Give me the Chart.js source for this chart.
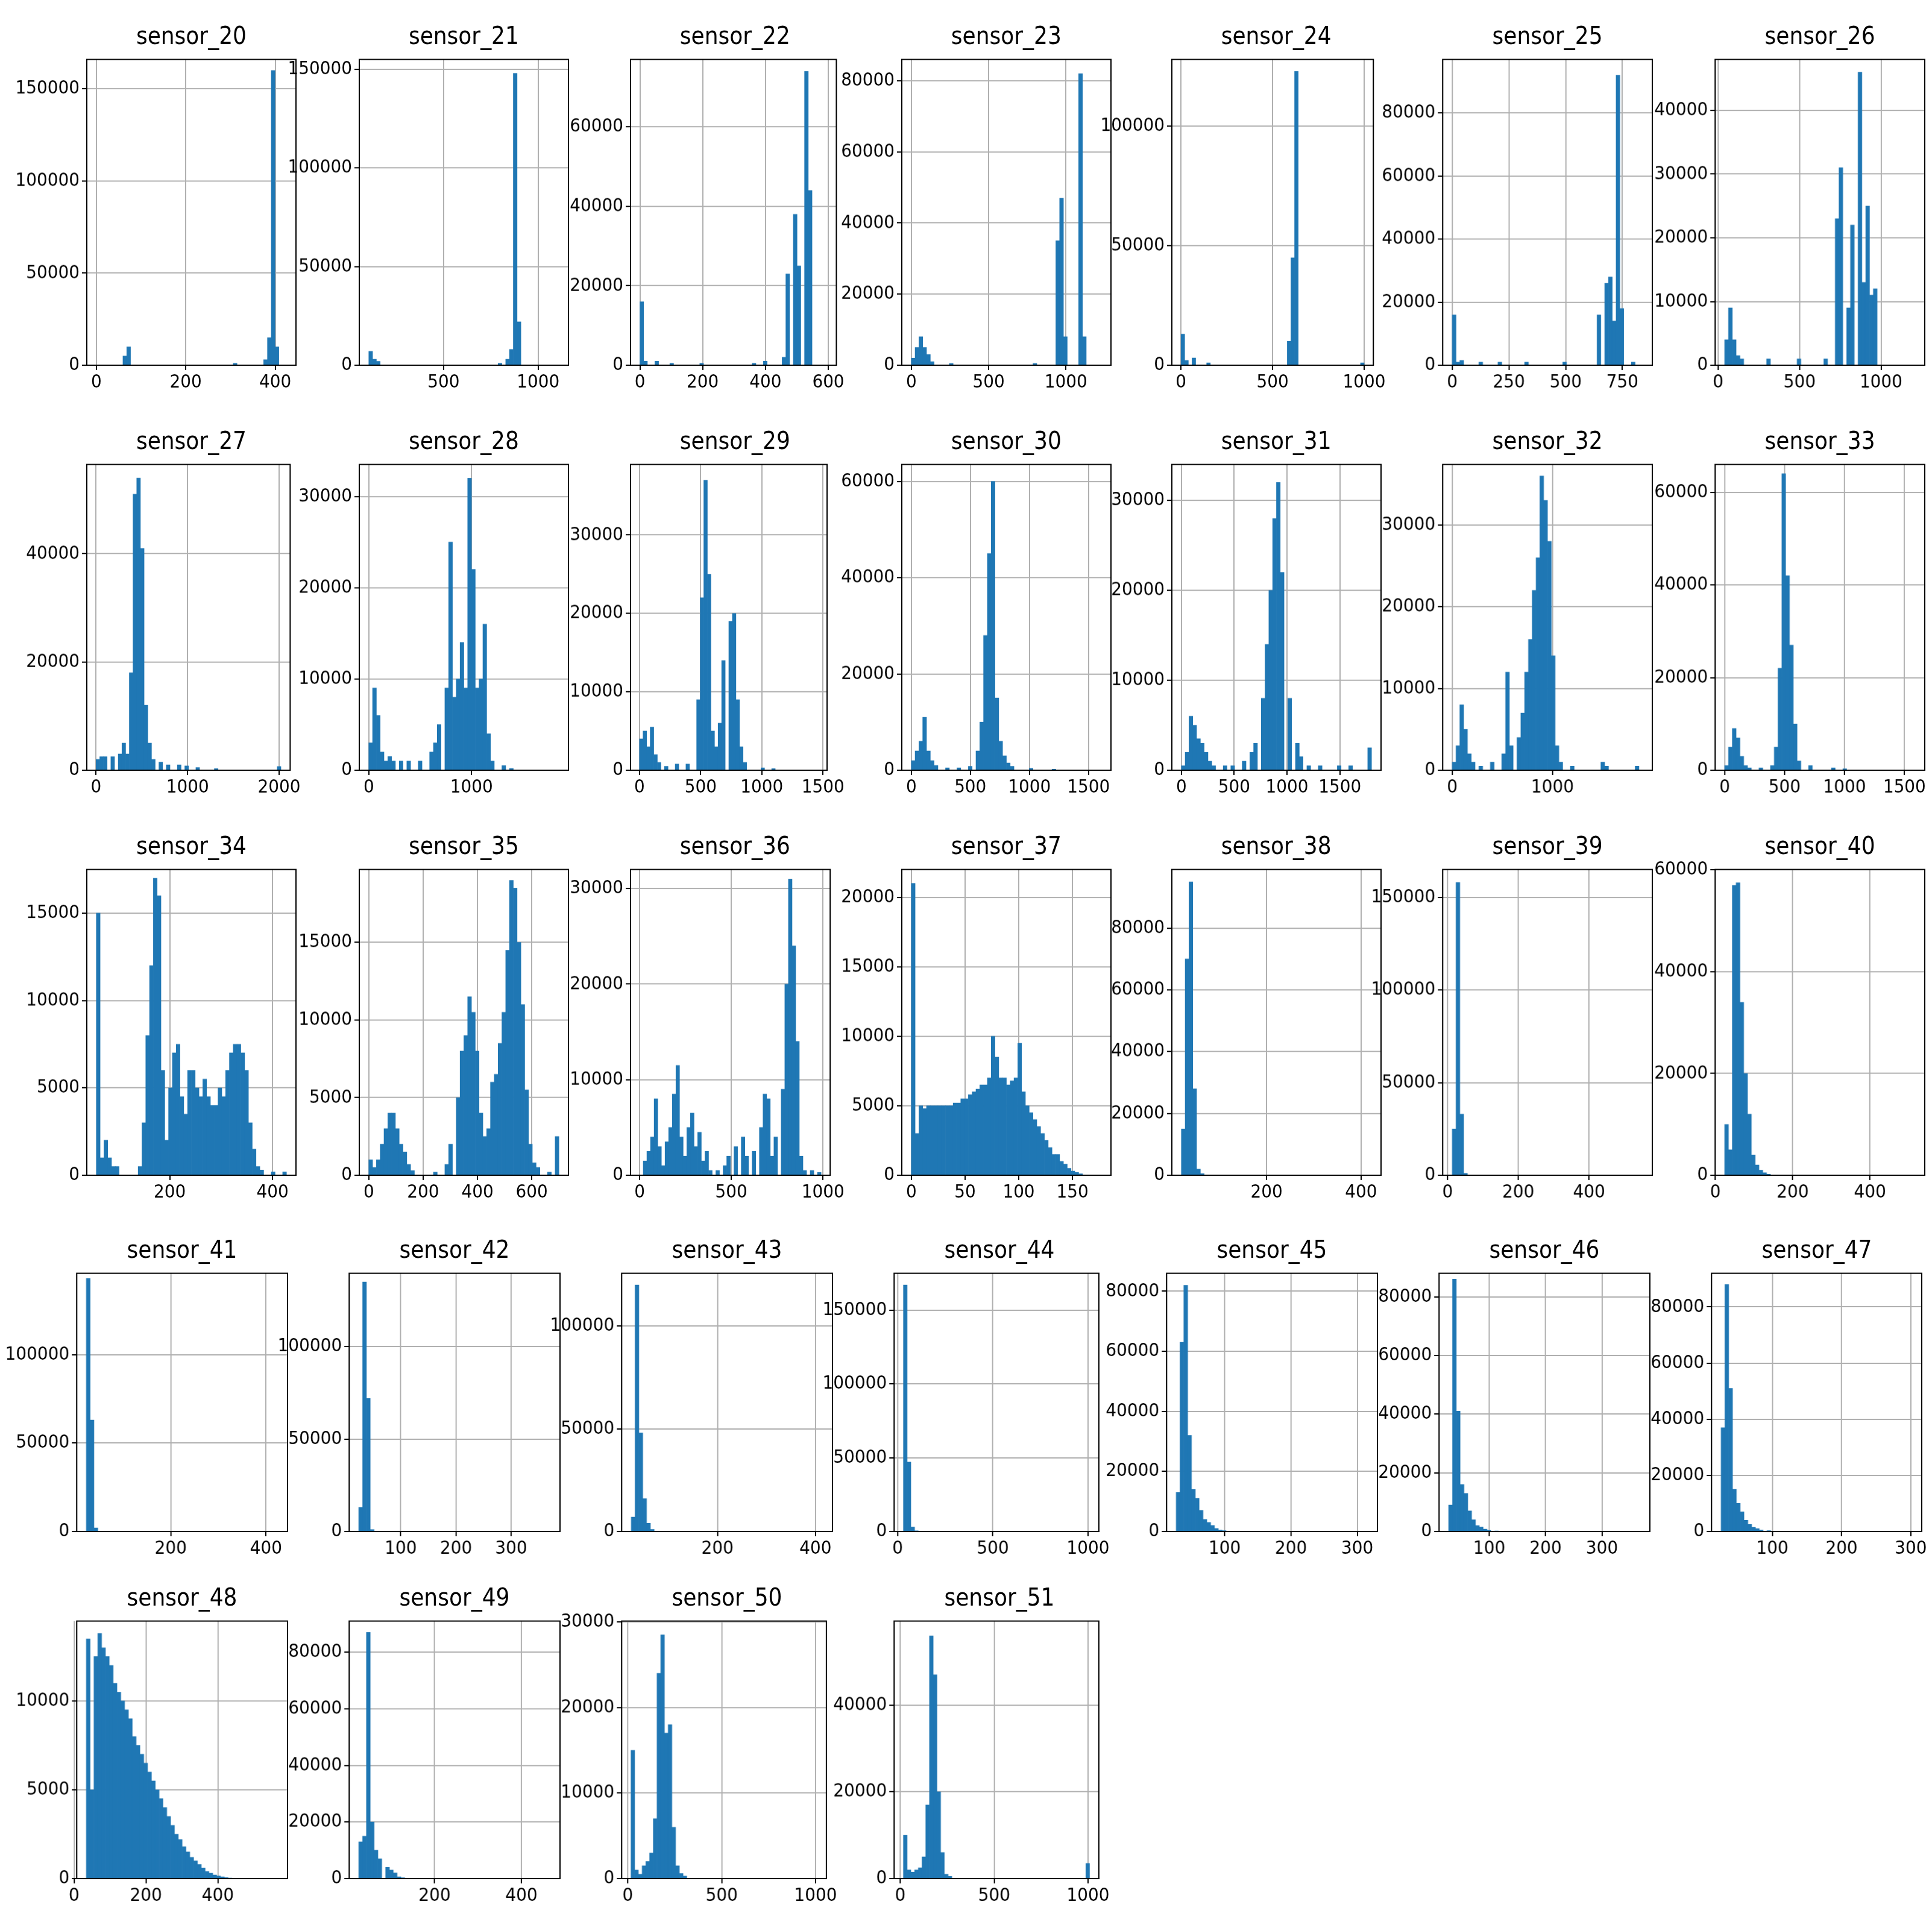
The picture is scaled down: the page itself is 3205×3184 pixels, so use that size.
<!DOCTYPE html>
<html><head><meta charset="utf-8">
<script src="https://cdn.jsdelivr.net/npm/chart.js@4.4.0/dist/chart.umd.min.js"></script>
<style>
body{margin:0;background:#fff;width:3205px;height:3184px;position:relative;overflow:hidden;font-family:"DejaVu Sans Condensed","Liberation Sans Narrow",sans-serif}
.c{position:absolute}
.t{position:absolute;text-align:center;font-size:40px;color:#000;white-space:nowrap}
</style></head><body>
<script>
// ---- data: [value, count] for non-empty bins; ranges [lo, hi] (50 bins) ----
const names = ["sensor_20","sensor_21","sensor_22","sensor_23","sensor_24","sensor_25","sensor_26","sensor_27","sensor_28","sensor_29","sensor_30","sensor_31","sensor_32","sensor_33","sensor_34","sensor_35","sensor_36","sensor_37","sensor_38","sensor_39","sensor_40","sensor_41","sensor_42","sensor_43","sensor_44","sensor_45","sensor_46","sensor_47","sensor_48","sensor_49","sensor_50","sensor_51"];
const ranges = [[0,425],[105,1110],[0,596],[0,1230],[0,1000],[0,840],[40,1210],[0,2020],[0,1850],[0,1460],[0,1610],[0,1800],[0,1900],[0,1590],[57,427],[0,700],[0,990],[0,177],[20,422],[13,552],[24,517],[23,425],[24,371],[24,415],[30,1008],[27,316],[28,368],[26,302],[34,567],[25,467],[17,1008],[17,1008]];
const xTicks = [[0,200,400],[500,1000],[0,200,400,600],[0,500,1000],[0,500,1000],[0,250,500,750],[0,500,1000],[0,1000,2000],[0,1000],[0,500,1000,1500],[0,500,1000,1500],[0,500,1000,1500],[0,1000],[0,500,1000,1500],[200,400],[0,200,400,600],[0,500,1000],[0,50,100,150],[200,400],[0,200,400],[0,200,400],[200,400],[100,200,300],[200,400],[0,500,1000],[100,200,300],[100,200,300],[100,200,300],[0,200,400],[200,400],[0,500,1000],[0,500,1000]];
const yStep = [50000,50000,20000,20000,50000,20000,10000,20000,10000,10000,20000,10000,10000,20000,5000,5000,10000,5000,20000,50000,20000,50000,50000,50000,50000,20000,20000,20000,5000,20000,10000,20000];
const yMax = [166000,155000,77000,86000,128000,97000,48000,56500,33500,39000,63500,34000,37400,66000,17500,19700,32000,22000,99000,165000,60100,146000,139700,125700,175000,86000,88000,92000,14500,91000,30100,59400];
const bars20=[[60,5000],[68,10000],[310,1000],[380,3000],[390,15000],[397,160000],[405,10000]];
const bars21=[[110,12000],[125,7000],[140,3000],[160,2000],[800,1000],[840,3000],[860,8000],[872,148000],[890,22000]];
const bars22=[[0,16000],[12,1000],[50,1000],[100,500],[200,500],[360,500],[400,1000],[460,2000],[472,23000],[490,20000],[500,38000],[512,25000],[525,74000],[537,44000]];
const bars23=[[10,2000],[40,5000],[60,8000],[85,5000],[110,3000],[135,1000],[250,500],[800,500],[950,35000],[975,47000],[1000,8000],[1100,82000],[1125,8000]];
const bars24=[[0,13000],[20,2000],[60,3000],[140,1000],[580,10000],[600,45000],[630,123000],[995,1000]];
const bars25=[[0,16000],[17,1000],[50,1500],[130,1000],[210,1000],[330,1000],[500,1000],[650,16000],[680,26000],[697,28000],[715,14000],[735,92000],[752,18000],[790,1000]];
const bars26=[[50,4000],[73,9000],[97,4000],[120,1500],[150,1000],[300,1000],[500,1000],[650,1000],[720,23000],[760,31000],[790,9000],[830,22000],[860,46000],[890,13000],[910,25000],[940,11000],[970,12000]];
const bars27=[[0,1000],[40,2000],[80,2500],[120,2500],[200,2500],[280,3000],[320,5000],[360,3000],[400,18000],[440,51000],[480,54000],[520,41000],[560,12000],[600,5000],[640,2000],[700,1500],[800,1000],[900,1000],[1000,800],[1100,500],[1300,300],[2000,700]];
const bars28=[[0,3000],[37,9000],[74,6000],[111,2000],[148,1000],[185,1500],[222,1000],[300,1000],[400,1000],[500,1000],[600,2000],[650,3000],[700,5000],[740,9000],[780,25000],[820,8000],[860,10000],[900,14000],[940,9000],[980,32000],[1020,22000],[1050,9000],[1080,10000],[1115,16000],[1150,4000],[1200,1000],[1300,500],[1400,200]];
const bars29=[[0,6500],[29,4000],[58,5000],[87,3000],[116,5500],[145,2000],[175,1000],[230,500],[300,800],[400,800],[480,9000],[510,22000],[540,37000],[570,25000],[600,5000],[640,3000],[670,6000],[700,14000],[730,19000],[760,20000],[790,9000],[820,3000],[860,1000],[1000,300],[1100,200]];
const bars30=[[0,500],[32,2000],[64,4000],[96,6000],[128,11000],[160,4000],[192,2000],[224,1000],[300,500],[400,500],[500,800],[560,4000],[600,10000],[630,28000],[660,45000],[690,60000],[720,15000],[750,6000],[780,3000],[820,1500],[860,800],[1000,400],[1200,200]];
const bars31=[[0,500],[36,2000],[72,6000],[108,5000],[144,3500],[180,3000],[216,2000],[260,1000],[300,500],[400,500],[500,500],[600,1000],[650,2000],[700,3000],[760,8000],[800,14000],[840,20000],[870,28000],[900,32000],[940,30000],[970,22000],[1010,14000],[1040,8000],[1080,3000],[1120,1500],[1200,500],[1300,500],[1500,500],[1600,500],[1780,2500]];
const bars32=[[0,1000],[38,3000],[76,8000],[114,5000],[152,2000],[190,1000],[300,500],[400,1000],[500,2000],[560,12000],[600,3000],[650,4000],[700,7000],[740,12000],[780,16000],[820,22000],[845,26000],[880,36000],[920,33000],[960,28000],[1000,14000],[1040,3000],[1100,1000],[1200,500],[1500,1000],[1550,500],[1850,500]];
const bars33=[[0,1000],[32,5000],[64,9000],[96,7000],[128,3000],[160,1000],[200,500],[300,500],[400,1000],[440,5000],[470,22000],[490,64000],[520,42000],[550,27000],[580,10000],[620,2000],[700,1000],[900,500],[1000,300]];
const bars34=[[57,3500],[64,15000],[71,1000],[78,2000],[85,1000],[92,500],[100,500],[140,500],[150,3000],[157,8000],[164,12000],[171,17000],[178,16000],[185,6000],[192,2000],[200,5000],[207,7000],[214,7500],[221,4500],[228,3500],[235,6000],[242,6000],[250,5000],[257,4000],[264,4500],[271,5500],[278,4500],[285,4000],[292,4000],[300,5000],[307,4500],[314,6000],[321,7000],[328,7500],[335,7500],[342,7000],[350,6000],[357,3000],[364,1500],[371,500],[380,300],[400,200],[420,200]];
const bars35=[[0,1000],[14,500],[28,1000],[42,2000],[56,3000],[70,4000],[84,4000],[98,3000],[112,2000],[126,1500],[140,700],[154,300],[250,200],[280,700],[300,2000],[322,5000],[336,8000],[350,9000],[364,11500],[378,10500],[392,8000],[406,4000],[420,2500],[434,3000],[448,6000],[462,6500],[476,8500],[490,10500],[504,14500],[518,19000],[532,18500],[546,15000],[560,11000],[574,5500],[588,2000],[602,800],[616,500],[660,200],[690,2500]];
const bars36=[[20,1500],[40,2500],[60,4000],[80,8000],[100,3000],[120,1000],[140,3500],[160,5000],[180,8500],[200,11500],[220,4000],[240,2000],[260,5000],[280,6500],[300,3000],[320,4500],[340,1500],[360,2500],[380,500],[420,500],[460,1000],[480,2000],[520,3000],[560,4000],[580,2000],[620,2500],[660,5000],[680,8500],[700,8000],[720,2000],[740,4000],[780,9000],[800,20000],[820,31000],[840,24000],[860,14000],[880,2000],[900,500],[950,500],[980,300]];
const counts37=[21000,3000,5000,4800,5000,5000,5000,5000,5000,5000,5000,5200,5200,5500,5500,5800,6000,6200,6500,6500,7000,10000,8500,7000,7000,6500,6800,7000,9500,6000,5000,4500,4000,3500,3000,2500,2000,1500,1500,1000,800,500,300,200,100];
const bars38=[[20,9000],[28,15000],[36,70000],[44,95000],[52,28000],[60,2000],[68,500]];
const bars39=[[13,25000],[24,158000],[35,33000],[46,1000]];
const bars40=[[24,10000],[34,5000],[44,57000],[54,57500],[64,34000],[74,20000],[84,12000],[94,4000],[104,2000],[114,1000],[124,500],[140,200]];
const bars41=[[23,14000],[31,143000],[39,63000],[47,2000]];
const bars42=[[24,13000],[31,135000],[38,72000],[45,1000]];
const bars43=[[24,7000],[32,120000],[40,48000],[48,16000],[56,4000],[64,1000]];
const bars44=[[30,167000],[50,47000],[70,3000],[90,500]];
const bars45=[[27,13000],[33,63000],[39,82000],[45,32000],[51,14000],[57,11000],[63,7000],[69,4000],[75,3000],[81,2000],[87,1000],[93,500],[100,300]];
const bars46=[[28,9000],[35,86000],[42,41000],[49,16000],[56,13000],[63,7000],[70,4000],[77,2000],[84,1500],[91,800],[100,400],[110,200]];
const bars47=[[26,8000],[31,37000],[37,88000],[42,51000],[48,15000],[53,10000],[59,7000],[64,4000],[70,2500],[75,1500],[81,1000],[86,500],[95,300]];
const bars48=[[34,13500],[45,5000],[56,12500],[66,13800],[77,13000],[88,12500],[98,12000],[109,11000],[120,10500],[130,10000],[141,9500],[152,9000],[162,8000],[173,7500],[184,7000],[194,6500],[205,6000],[216,5500],[226,5000],[237,4500],[248,4000],[258,3500],[269,3000],[280,2500],[290,2200],[301,1800],[312,1500],[322,1200],[333,1000],[344,800],[354,600],[365,400],[376,300],[386,200],[397,150],[408,100],[420,60],[430,30]];
const bars49=[[25,13000],[34,15000],[43,87000],[52,56000],[60,20000],[69,10000],[78,7000],[87,4000],[96,3000],[105,2000],[114,1000],[122,600],[131,300]];
const bars50=[[17,15000],[37,1000],[57,500],[77,1500],[97,2000],[117,3000],[137,7000],[157,24000],[177,28500],[197,17000],[217,18000],[237,6000],[257,1500],[277,600],[300,300]];
const bars51=[[17,10000],[37,2000],[57,1500],[77,2000],[97,2500],[117,5000],[137,17000],[157,56000],[177,47000],[197,20000],[217,6000],[237,1000],[257,500],[1000,3500]];
const allBars=[bars20,bars21,bars22,bars23,bars24,bars25,bars26,bars27,bars28,bars29,bars30,bars31,bars32,bars33,bars34,bars35,bars36,null,bars38,bars39,bars40,bars41,bars42,bars43,bars44,bars45,bars46,bars47,bars48,bars49,bars50,bars51];

// ---- layout ----
const F = 2.0545;
const colA = [70,290,509,728,946,1165,1385], colB = [62,282,502,722,942,1162,1382];
const rowT = [42,369,696,1022,1303], rowH = [253,253,253,215,214];
const FONT = '"DejaVu Sans Condensed","Liberation Sans Narrow",sans-serif';
const frame = {id:'frame', afterDraw(c){const a=c.chartArea,x=c.ctx;x.save();x.strokeStyle='#000';x.lineWidth=2;x.strokeRect(a.left,a.top,a.right-a.left,a.bottom-a.top);x.restore();}};
const YW=120, XH=62, TOPP=10;

names.forEach((nm,i)=>{
  const r=Math.floor(i/7), col=i%7;
  const pl=(r<3?colA[col]:colB[col])*F, pw=(r<3?169:170)*F;
  const pt=rowT[r]*F, ph=rowH[r]*F;
  const [lo,hi]=ranges[i], w=(hi-lo)/50;
  const counts=new Array(50).fill(0);
  if(allBars[i]) allBars[i].forEach(([v,c])=>{let k=Math.floor((v-lo)/w);k=Math.max(0,Math.min(49,k));counts[k]=c;});
  else counts37.forEach((c,k)=>counts[k]=c);
  const data=counts.map((c,k)=>({x:lo+(k+0.5)*w,y:c}));
  const cv=document.createElement('canvas');cv.className='c';
  const L=pl-YW, T=pt-TOPP, W=pw+YW+10, H=ph+TOPP+XH;
  cv.style.left=L+'px';cv.style.top=T+'px';cv.style.width=W+'px';cv.style.height=H+'px';
  cv.width=W;cv.height=H;
  document.body.appendChild(cv);
  const t=document.createElement('div');t.className='t';t.textContent=nm;
  t.style.left=pl+'px';t.style.width=pw+'px';t.style.top=(pt-50)+'px';
  document.body.appendChild(t);
  const span=hi-lo, yt=[];for(let v=0;v<=yMax[i];v+=yStep[i])yt.push(v);
  new Chart(cv,{type:'bar',data:{datasets:[{data,backgroundColor:'#1f77b4',barPercentage:1,categoryPercentage:1,borderWidth:0}]},
    plugins:[frame],
    options:{responsive:false,animation:false,devicePixelRatio:1,layout:{padding:{top:TOPP,right:10,left:0,bottom:0}},
      plugins:{legend:{display:false},tooltip:{enabled:false}},
      scales:{
        x:{type:'linear',offset:false,min:lo-0.05*span,max:hi+0.05*span,
          afterBuildTicks(s){s.ticks=xTicks[i].map(v=>({value:v}));},
          afterFit(s){s.height=XH;},
          grid:{offset:false,color:'#b0b0b0',lineWidth:2,tickColor:'#000',tickLength:8},border:{color:'#000',width:2},
          ticks:{color:'#000',font:{size:31,family:FONT},maxRotation:0,autoSkip:false,padding:2,callback:v=>String(v)}},
        y:{min:0,max:yMax[i],
          afterBuildTicks(s){s.ticks=yt.map(v=>({value:v}));},
          afterFit(s){s.width=YW;},
          grid:{color:'#b0b0b0',lineWidth:2,tickColor:'#000',tickLength:8},border:{color:'#000',width:2},
          ticks:{color:'#000',font:{size:31,family:FONT},autoSkip:false,padding:4,callback:v=>String(v)}}
      }}});
});
</script></body></html>
